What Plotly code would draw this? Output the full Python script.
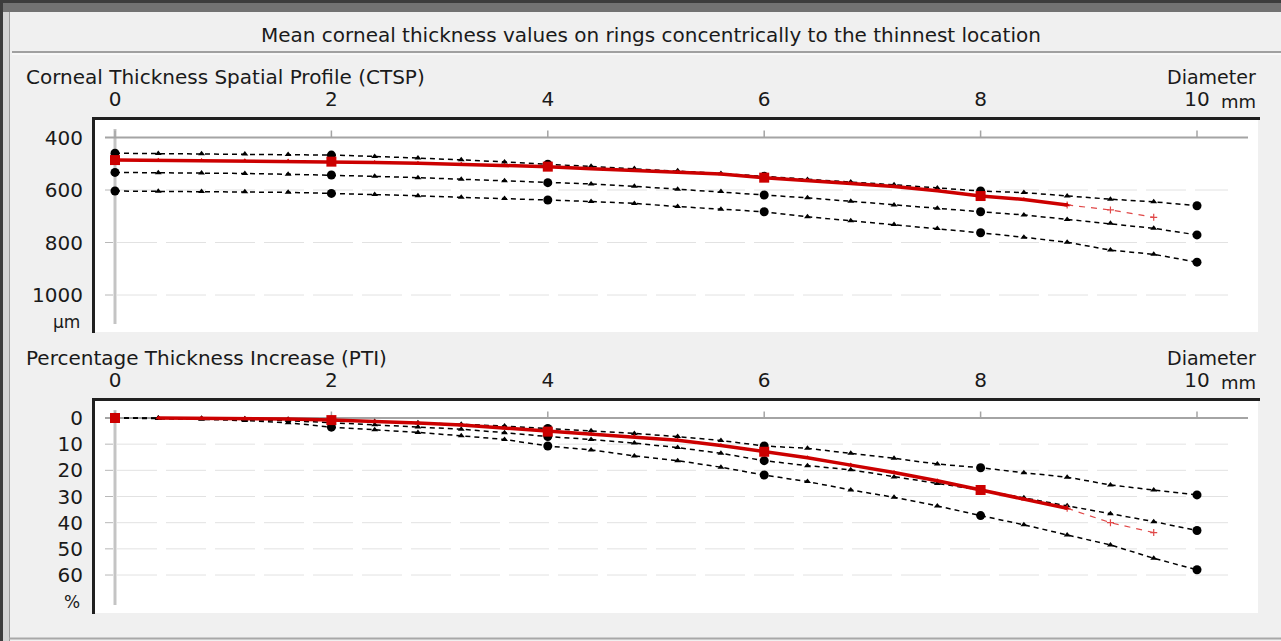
import plotly.graph_objects as go

W, H = 1281, 641

# ---------------- data ----------------
diameter_mm = [0.0, 0.4, 0.8, 1.2, 1.6, 2.0, 2.4, 2.8, 3.2, 3.6, 4.0, 4.4, 4.8,
               5.2, 5.6, 6.0, 6.4, 6.8, 7.2, 7.6, 8.0, 8.4, 8.8, 9.2, 9.6, 10.0]
x_ticks = [0, 2, 4, 6, 8, 10]
x_ticktext = ["0", "2", "4", "6", "8", "10"]

ctsp_ticks = [400, 600, 800, 1000]
pti_ticks = [0, 10, 20, 30, 40, 50, 60]

# Corneal Thickness Spatial Profile (µm): normal band (3 dashed curves) + patient
ctsp_norm_thin = [460, 461, 462, 463, 465, 467, 472, 478, 485, 493, 502, 510, 518,
                  527, 537, 548, 560, 570, 580, 592, 604, 610, 623, 635, 645, 660]
ctsp_norm_mean = [533, 534, 535, 537, 540, 543, 548, 553, 559, 565, 572, 577, 586,
                  597, 606, 619, 630, 643, 657, 670, 683, 695, 712, 727, 746, 771]
ctsp_norm_thick = [604, 605, 606, 607, 609, 613, 617, 622, 628, 632, 638, 644, 651,
                   663, 673, 683, 702, 717, 731, 747, 763, 780, 799, 829, 845, 875]
ctsp_patient = [486, 487, 488, 489, 490, 492, 495, 498, 502, 506, 511, 519, 525,
                531, 539, 553, 563, 575, 587, 603, 623, 636, 657]
ctsp_patient_extrap = [657, 676, 704]

# Percentage Thickness Increase (%)
pti_norm_low = [0, 0, 0.1, 0.3, 0.5, 0.9, 1.3, 1.8, 2.4, 3.1, 4.0, 4.9, 5.9,
                7.1, 8.6, 10.7, 11.6, 13.5, 15.4, 17.6, 19.0, 20.9, 22.6, 25.6, 27.5, 29.4]
pti_norm_mean = [0, 0.1, 0.3, 0.6, 1.0, 1.8, 2.6, 3.4, 4.3, 5.6, 7.1, 8.2, 9.6,
                 11.3, 13.5, 16.3, 18.2, 19.8, 22.5, 25.0, 27.5, 30.5, 33.5, 36.6, 39.6, 43.0]
pti_norm_high = [0, 0.2, 0.5, 1.0, 1.8, 3.5, 4.5, 5.5, 6.8, 8.2, 10.7, 12.2, 14.5,
                 16.3, 18.8, 21.8, 24.3, 27.5, 30.3, 33.6, 37.3, 40.8, 44.7, 48.5, 53.6, 58.0]
pti_patient = [0, 0.0, 0.1, 0.2, 0.4, 0.8, 1.3, 1.9, 2.7, 3.8, 5.2, 6.1, 7.1,
               8.5, 10.5, 12.9, 15.2, 18.0, 20.8, 24.0, 27.5, 31.0, 34.5]
pti_patient_extrap = [34.5, 40.0, 43.8]

# ---------------- geometry helpers (pixel calibration) ----------------
def px(x):
    return x / W


def py(y):
    return 1 - y / H


X0_PX, PX_PER_MM = 115.0, 108.2
PLOT_L, PLOT_R = 95, 1258


def xr(p):
    return (p - X0_PX) / PX_PER_MM


TOP_T, TOP_B = 120, 332
BOT_T, BOT_B = 401, 613


def ctsp_val(y):
    return 400 + (y - 137.5) / 0.2625


def pti_val(y):
    return (y - 418.0) / 2.617


TXT = "#1a1a1a"
FONT = "DejaVu Sans, Verdana, sans-serif"
FS = 20
RED = "#cc0000"

fig = go.Figure()

n = len(diameter_mm)
big = [i % 5 == 0 for i in range(n)]
blk_sizes = [9 if b else 6 for b in big]
blk_symbols = ["circle" if b else "triangle-up" for b in big]


def norm_trace(y, xa, ya):
    return go.Scatter(
        x=diameter_mm, y=y, xaxis=xa, yaxis=ya, mode="lines+markers",
        line=dict(color="#000000", width=1.5, dash="5px,4px"),
        marker=dict(color="#000000", size=blk_sizes, symbol=blk_symbols,
                    opacity=1, line=dict(width=0)),
        showlegend=False, hoverinfo="x+y")


def patient_traces(vals, extrap, xa, ya, line_from=0):
    m = len(vals)
    xs = diameter_mm[:m]
    sizes = [10 if i % 5 == 0 else 5 for i in range(m)]
    syms = ["square" if i % 5 == 0 else "triangle-up" for i in range(m)]
    out = [
        go.Scatter(x=diameter_mm[m - 1:m - 1 + len(extrap)], y=extrap, xaxis=xa, yaxis=ya,
                   mode="lines+markers",
                   line=dict(color="#e04848", width=1.2, dash="6px,6px"),
                   marker=dict(color="#e04848", size=5, symbol="cross-thin", opacity=1,
                               line=dict(color="#e04848", width=1.2)),
                   showlegend=False),
        go.Scatter(x=xs[line_from:], y=vals[line_from:], xaxis=xa, yaxis=ya, mode="lines",
                   line=dict(color=RED, width=3.5), showlegend=False),
        go.Scatter(x=xs, y=vals, xaxis=xa, yaxis=ya, mode="markers",
                   marker=dict(color=RED, size=sizes, symbol=syms, opacity=1,
                               line=dict(width=0)),
                   showlegend=False),
    ]
    return out


for series in (ctsp_norm_thin, ctsp_norm_mean, ctsp_norm_thick):
    fig.add_trace(norm_trace(series, "x", "y"))
for t in patient_traces(ctsp_patient, ctsp_patient_extrap, "x", "y"):
    fig.add_trace(t)

for series in (pti_norm_low, pti_norm_mean, pti_norm_high):
    fig.add_trace(norm_trace(series, "x2", "y2"))
for t in patient_traces(pti_patient, pti_patient_extrap, "x2", "y2", line_from=1):
    fig.add_trace(t)

# ---------------- axes ----------------
xcommon = dict(range=[xr(PLOT_L), xr(PLOT_R)], side="top", tickvals=x_ticks,
               ticktext=x_ticktext, showgrid=False, zeroline=False, showline=False,
               ticks="", ticklabelstandoff=9, fixedrange=True,
               tickfont=dict(family=FONT, size=FS, color=TXT))
ycommon = dict(showgrid=False, zeroline=False, showline=False, ticks="",
               ticklabelstandoff=11, fixedrange=True,
               tickfont=dict(family=FONT, size=FS, color=TXT))

fig.update_layout(
    width=W, height=H, margin=dict(l=0, r=0, t=0, b=0),
    paper_bgcolor="#f0f0f0", plot_bgcolor="#ffffff", showlegend=False,
    xaxis=dict(domain=[px(PLOT_L), px(PLOT_R)], anchor="y", **xcommon),
    yaxis=dict(domain=[py(TOP_B), py(TOP_T)], anchor="x",
               range=[ctsp_val(TOP_B), ctsp_val(TOP_T)], tickvals=ctsp_ticks, **ycommon),
    xaxis2=dict(domain=[px(PLOT_L), px(PLOT_R)], anchor="y2", **xcommon),
    yaxis2=dict(domain=[py(BOT_B), py(BOT_T)], anchor="x2",
                range=[pti_val(BOT_B), pti_val(BOT_T)], tickvals=pti_ticks, **ycommon),
)

shapes = []
# window frame
shapes += [
    dict(type="rect", xref="paper", yref="paper", x0=0, x1=1, y0=py(12), y1=1,
         fillcolor="#727272", line=dict(width=0), layer="below"),
    dict(type="rect", xref="paper", yref="paper", x0=0, x1=1, y0=py(3), y1=1,
         fillcolor="#3c3c3c", line=dict(width=0), layer="below"),
    dict(type="rect", xref="paper", yref="paper", x0=0, x1=px(3), y0=0, y1=1,
         fillcolor="#3c3c3c", line=dict(width=0), layer="below"),
    dict(type="rect", xref="paper", yref="paper", x0=px(3), x1=px(9), y0=0, y1=py(12),
         fillcolor="#d4d4d4", line=dict(width=0), layer="below"),
    dict(type="line", xref="paper", yref="paper", x0=px(9.5), x1=px(9.5), y0=0, y1=py(12),
         line=dict(color="#9a9a9a", width=1), layer="below"),
    dict(type="line", xref="paper", yref="paper", x0=px(12), x1=1, y0=py(52), y1=py(52),
         line=dict(color="#a0a0a0", width=2), layer="below"),
    dict(type="line", xref="paper", yref="paper", x0=px(12), x1=1, y0=py(54), y1=py(54),
         line=dict(color="#ffffff", width=1), layer="below"),
    dict(type="line", xref="paper", yref="paper", x0=px(9), x1=1, y0=py(638.5), y1=py(638.5),
         line=dict(color="#a8a8a8", width=2), layer="below"),
]

panels = [("x", "y", TOP_T, TOP_B, 400, ctsp_ticks),
          ("x2", "y2", BOT_T, BOT_B, 0, pti_ticks)]
for xa, ya, t, b, base, ticks in panels:
    # sunken black border (top and left)
    shapes.append(dict(type="line", xref="paper", yref="paper", x0=px(92), x1=px(1260),
                       y0=py(t - 1.5), y1=py(t - 1.5), line=dict(color="#202020", width=3)))
    shapes.append(dict(type="line", xref="paper", yref="paper", x0=px(93.5), x1=px(93.5),
                       y0=py(b + 1), y1=py(t - 3), line=dict(color="#202020", width=3)))
    # dashed light grid lines
    for v in ticks[1:]:
        shapes.append(dict(type="line", xref="paper", yref=ya, x0=px(117), x1=px(1228),
                           y0=v, y1=v, line=dict(color="#e2e2e2", width=1, dash="40px,9px"),
                           layer="below"))
        shapes.append(dict(type="line", xref="paper", yref=ya, x0=px(105), x1=px(113),
                           y0=v, y1=v, line=dict(color="#b8b8b8", width=1), layer="below"))
    # vertical gray axis at x = 0
    shapes.append(dict(type="line", xref=xa, yref="paper", x0=0, x1=0,
                       y0=py(b - 8), y1=py(t + 9), line=dict(color="#c4c4c4", width=3),
                       layer="below"))
    # horizontal gray axis line
    shapes.append(dict(type="line", xref="paper", yref=ya, x0=px(105), x1=px(1248),
                       y0=base, y1=base, line=dict(color="#a4a4a4", width=2), layer="below"))
    # small tick marks on it
    ypix_axis = t + 17.5
    for v in x_ticks:
        shapes.append(dict(type="line", xref=xa, yref="paper", x0=v, x1=v,
                           y0=py(ypix_axis), y1=py(ypix_axis - 7),
                           line=dict(color="#a4a4a4", width=1.5), layer="below"))

fig.update_layout(shapes=shapes)

ann = []


def label(text, x, y, xanchor="left", size=FS):
    ann.append(dict(text=text, x=px(x), y=py(y), xref="paper", yref="paper",
                    xanchor=xanchor, yanchor="middle", showarrow=False,
                    font=dict(family=FONT, size=size, color=TXT)))


label("Mean corneal thickness values on rings concentrically to the thinnest location",
      651, 35, "center")
label("Corneal Thickness Spatial Profile (CTSP)", 24, 77)
label("Percentage Thickness Increase (PTI)", 24, 358)
for ytxt, ymm in ((77, 101), (358, 382)):
    label("Diameter", 1258, ytxt, "right", size=19)
    label("mm", 1258, ymm, "right", size=18)
label("µm", 82, 322, "right", size=17)
label("%", 82, 602, "right", size=17)

fig.update_layout(annotations=ann)

fig.write_html("out.html", config={"displayModeBar": False},
               post_script="document.body.style.margin='0';document.body.style.overflow='hidden';")
